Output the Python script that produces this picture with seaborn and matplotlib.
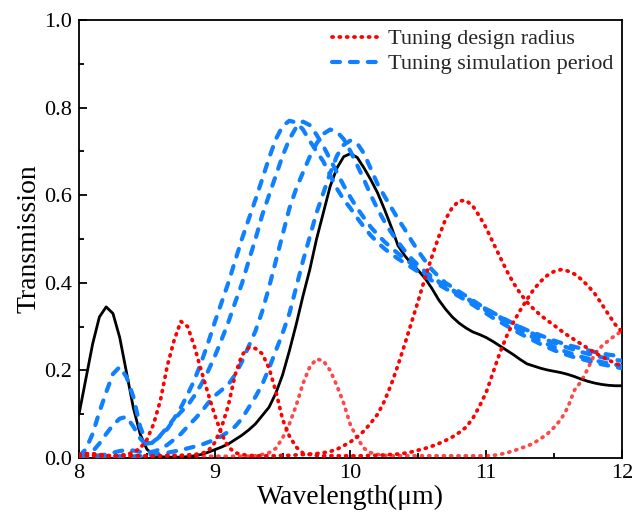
import numpy as np
import pandas as pd
import matplotlib
matplotlib.use("Agg")
import matplotlib.pyplot as plt
import seaborn as sns
from matplotlib.lines import Line2D
from matplotlib.ticker import MultipleLocator, FormatStrFormatter

# Wavelength sampling (um), 0.05 um step from 8 to 12
wavelength = np.linspace(8.0, 12.0, 81)

# Reference transmission spectrum (solid black)
reference = [
    0.100, 0.180, 0.260, 0.322, 0.345, 0.330, 0.275, 0.195, 0.115, 0.055,
    0.020, 0.007, 0.003, 0.002, 0.002, 0.002, 0.003, 0.005, 0.008, 0.013,
    0.019, 0.025, 0.032, 0.042, 0.052, 0.064, 0.078, 0.097, 0.116, 0.148,
    0.190, 0.245, 0.305, 0.370, 0.430, 0.500, 0.560, 0.620, 0.662, 0.688,
    0.695, 0.686, 0.662, 0.635, 0.605, 0.568, 0.528, 0.485, 0.462, 0.443,
    0.428, 0.410, 0.387, 0.361, 0.340, 0.322, 0.308, 0.297, 0.288, 0.282,
    0.275, 0.266, 0.256, 0.246, 0.236, 0.225, 0.215, 0.210, 0.205, 0.201,
    0.198, 0.195, 0.191, 0.186, 0.180, 0.175, 0.171, 0.168, 0.166, 0.165,
    0.165,
]

# Tuning design radius (red dotted)
radius_small = [
    0.008, 0.010, 0.010, 0.008, 0.006, 0.005, 0.006, 0.008, 0.013, 0.022,
    0.042, 0.078, 0.132, 0.210, 0.268, 0.312, 0.300, 0.255, 0.200, 0.148,
    0.098, 0.055, 0.025, 0.012, 0.008, 0.006, 0.005, 0.005, 0.005, 0.005,
    0.006, 0.006, 0.007, 0.008, 0.009, 0.010, 0.012, 0.015, 0.020, 0.028,
    0.037, 0.048, 0.062, 0.080, 0.100, 0.130, 0.168, 0.212, 0.260, 0.310,
    0.360, 0.412, 0.460, 0.505, 0.545, 0.572, 0.587, 0.588, 0.576, 0.552,
    0.525, 0.492, 0.460, 0.428, 0.400, 0.376, 0.356, 0.340, 0.326, 0.314,
    0.303, 0.291, 0.280, 0.270, 0.260, 0.250, 0.240, 0.232, 0.224, 0.216,
    0.210,
]
radius_mid = [
    0.004, 0.005, 0.006, 0.006, 0.005, 0.005, 0.005, 0.005, 0.005, 0.005,
    0.005, 0.005, 0.005, 0.006, 0.006, 0.006, 0.007, 0.008, 0.010, 0.016,
    0.035, 0.070, 0.120, 0.190, 0.235, 0.252, 0.250, 0.238, 0.205, 0.152,
    0.088, 0.050, 0.025, 0.011, 0.008, 0.006, 0.005, 0.005, 0.005, 0.005,
    0.005, 0.005, 0.005, 0.006, 0.006, 0.007, 0.008, 0.009, 0.011, 0.014,
    0.018, 0.022, 0.027, 0.033, 0.040, 0.048, 0.058, 0.070, 0.090, 0.118,
    0.150, 0.195, 0.240, 0.278, 0.310, 0.337, 0.362, 0.385, 0.403, 0.417,
    0.426, 0.430, 0.427, 0.420, 0.408, 0.393, 0.375, 0.352, 0.328, 0.305,
    0.288,
]
radius_large = [
    0.005, 0.006, 0.005, 0.004, 0.004, 0.004, 0.005, 0.006, 0.006, 0.005,
    0.004, 0.004, 0.004, 0.004, 0.004, 0.004, 0.004, 0.004, 0.004, 0.004,
    0.004, 0.004, 0.004, 0.004, 0.004, 0.004, 0.005, 0.008, 0.012, 0.022,
    0.046, 0.078, 0.120, 0.170, 0.208, 0.226, 0.222, 0.200, 0.165, 0.125,
    0.075, 0.045, 0.022, 0.012, 0.008, 0.006, 0.005, 0.005, 0.005, 0.005,
    0.005, 0.005, 0.005, 0.005, 0.005, 0.005, 0.005, 0.005, 0.005, 0.005,
    0.005, 0.006, 0.008, 0.012, 0.016, 0.022, 0.027, 0.034, 0.044, 0.055,
    0.070, 0.088, 0.115, 0.155, 0.175, 0.205, 0.238, 0.255, 0.268, 0.280,
    0.290,
]

# Tuning simulation period (blue dashed)
period_1 = [
    0.004, 0.020, 0.055, 0.105, 0.150, 0.192, 0.208, 0.185, 0.140, 0.072,
    0.033, 0.035, 0.052, 0.070, 0.090, 0.115, 0.145, 0.178, 0.218, 0.262,
    0.310, 0.355, 0.400, 0.450, 0.500, 0.545, 0.590, 0.637, 0.685, 0.728,
    0.758, 0.770, 0.766, 0.750, 0.724, 0.700, 0.677, 0.646, 0.615, 0.590,
    0.570, 0.548, 0.527, 0.508, 0.492, 0.478, 0.466, 0.455, 0.445, 0.435,
    0.425, 0.415, 0.405, 0.396, 0.387, 0.378, 0.369, 0.360, 0.350, 0.340,
    0.330, 0.320, 0.311, 0.302, 0.293, 0.284, 0.276, 0.268, 0.260, 0.253,
    0.246, 0.240, 0.235, 0.230, 0.226, 0.222, 0.218, 0.214, 0.211, 0.208,
    0.205,
]
period_2 = [
    0.003, 0.006, 0.015, 0.033, 0.055, 0.075, 0.090, 0.094, 0.072, 0.045,
    0.028, 0.038, 0.050, 0.066, 0.088, 0.105, 0.120, 0.142, 0.168, 0.198,
    0.232, 0.270, 0.310, 0.355, 0.398, 0.450, 0.500, 0.555, 0.600, 0.645,
    0.690, 0.728, 0.755, 0.768, 0.760, 0.738, 0.712, 0.682, 0.652, 0.622,
    0.595, 0.570, 0.548, 0.527, 0.510, 0.494, 0.480, 0.467, 0.455, 0.443,
    0.432, 0.421, 0.411, 0.401, 0.391, 0.382, 0.373, 0.364, 0.355, 0.346,
    0.337, 0.328, 0.319, 0.310, 0.301, 0.292, 0.283, 0.275, 0.267, 0.260,
    0.253, 0.247, 0.241, 0.236, 0.231, 0.227, 0.223, 0.219, 0.216, 0.213,
    0.210,
]
period_3 = [
    0.003, 0.004, 0.005, 0.006, 0.008, 0.012, 0.016, 0.018, 0.017, 0.014,
    0.012, 0.015, 0.020, 0.030, 0.042, 0.055, 0.072, 0.088, 0.105, 0.125,
    0.142, 0.155, 0.168, 0.190, 0.220, 0.255, 0.290, 0.335, 0.390, 0.450,
    0.510, 0.570, 0.615, 0.652, 0.688, 0.718, 0.740, 0.750, 0.745, 0.728,
    0.700, 0.668, 0.635, 0.600, 0.568, 0.540, 0.515, 0.493, 0.473, 0.455,
    0.440, 0.426, 0.414, 0.403, 0.393, 0.384, 0.375, 0.366, 0.357, 0.348,
    0.340, 0.331, 0.322, 0.314, 0.306, 0.298, 0.290, 0.283, 0.276, 0.269,
    0.263, 0.257, 0.252, 0.247, 0.242, 0.238, 0.234, 0.230, 0.227, 0.224,
    0.222,
]
period_4 = [
    0.002, 0.002, 0.002, 0.003, 0.003, 0.003, 0.004, 0.004, 0.004, 0.004,
    0.006, 0.008, 0.010, 0.012, 0.015, 0.018, 0.022, 0.026, 0.030, 0.036,
    0.042, 0.050, 0.060, 0.072, 0.090, 0.115, 0.140, 0.168, 0.205, 0.245,
    0.285, 0.330, 0.390, 0.450, 0.505, 0.560, 0.605, 0.650, 0.690, 0.715,
    0.725, 0.718, 0.695, 0.660, 0.625, 0.598, 0.572, 0.546, 0.522, 0.496,
    0.472, 0.450, 0.430, 0.414, 0.400, 0.390, 0.380, 0.370, 0.360, 0.350,
    0.340, 0.332, 0.323, 0.315, 0.307, 0.299, 0.292, 0.286, 0.280, 0.274,
    0.268, 0.263, 0.258, 0.254, 0.250, 0.246, 0.242, 0.239, 0.236, 0.234,
    0.232,
]

legend_labels = ["Tuning design radius", "Tuning simulation period"]
x_label = "Wavelength(\u03bcm)"
y_label = "Transmission"

RED = "#FF0000"
BLUE = "#0F80FF"

sns.set_theme(style="ticks")
plt.rcParams["font.family"] = ["Liberation Serif", "DejaVu Serif"]

fig, ax = plt.subplots(figsize=(6.44, 5.17), dpi=100)
fig.subplots_adjust(left=0.1227, right=0.9658, top=0.9613, bottom=0.1141)

dot_style = dict(linewidth=2.7, linestyle=(0, (0.3, 1.65)), dash_capstyle="round")
dash_style = dict(linewidth=3.0, linestyle=(0, (1.9, 2.4)), dash_capstyle="round")
solid_style = dict(linewidth=2.0, linestyle="-", solid_capstyle="round")


def draw(values, color, style, alpha=1.0, z=2):
    """Draw one spectrum with seaborn and pin its line style."""
    sns.lineplot(x=wavelength, y=values, ax=ax, color=color, alpha=alpha,
                 legend=False, zorder=z)
    line = ax.lines[-1]
    line.set_linewidth(style["linewidth"])
    line.set_linestyle(style["linestyle"])
    if "dash_capstyle" in style:
        line.set_dash_capstyle(style["dash_capstyle"])
    if "solid_capstyle" in style:
        line.set_solid_capstyle(style["solid_capstyle"])


# reference spectrum
draw(reference, "black", solid_style, z=2)

# period sweep
for values in (period_1, period_2, period_3, period_4):
    draw(values, BLUE, dash_style, z=3)

# radius sweep
for values, alpha in ((radius_small, 1.0), (radius_mid, 1.0), (radius_large, 0.72)):
    draw(values, RED, dot_style, alpha=alpha, z=4)

ax.set_xlim(8, 12)
ax.set_ylim(0, 1.0)
ax.xaxis.set_major_locator(MultipleLocator(1))
ax.xaxis.set_minor_locator(MultipleLocator(0.5))
ax.yaxis.set_major_locator(MultipleLocator(0.2))
ax.yaxis.set_minor_locator(MultipleLocator(0.1))
ax.yaxis.set_major_formatter(FormatStrFormatter("%.1f"))

ax.tick_params(which="both", direction="in", top=False, right=False,
               colors="black", width=1.3)
ax.tick_params(which="major", length=6, labelsize=16)
ax.tick_params(axis="x", which="major", pad=4)
ax.tick_params(axis="y", which="major", pad=5)
ax.tick_params(which="minor", length=3.5)
for side in ("left", "right", "top", "bottom"):
    ax.spines[side].set_visible(True)
    ax.spines[side].set_color("black")
    ax.spines[side].set_linewidth(1.3)

ax.set_xlabel(x_label, fontsize=20, labelpad=2, color="black")
ax.set_ylabel(y_label, fontsize=20, labelpad=2, color="black")

handles = [
    Line2D([], [], color=RED, **dot_style),
    Line2D([], [], color=BLUE, **dash_style),
]
ax.legend(handles, legend_labels, loc="upper right", frameon=False,
          fontsize=16, handlelength=2.3, handletextpad=0.2,
          borderaxespad=0.2, borderpad=0.2, labelspacing=0.2)

fig.savefig("out.png", dpi=100)
